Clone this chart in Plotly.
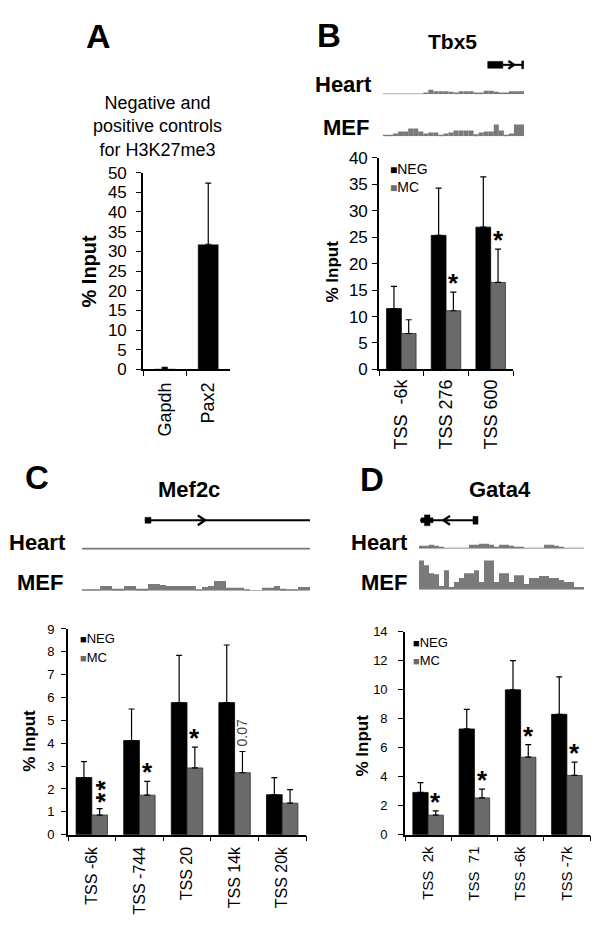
import plotly.graph_objects as go

# ---------------- data ----------------
a_cats = ["Gapdh", "Pax2"]
a_vals = [0.2, 31.8]
a_err = [0.3, 15.5]

b_cats = ["TSS\u00a0\u00a0-6k", "TSS 276", "TSS 600"]
b_neg = [11.5, 25.35, 26.9]
b_neg_err = [4.2, 8.95, 9.5]
b_mc = [6.8, 11.1, 16.45]
b_mc_err = [2.6, 3.5, 6.3]
b_sig = ["", "*", "*"]

c_cats = ["TSS -6k", "TSS -744", "TSS 20", "TSS 14k", "TSS 20k"]
c_neg = [2.5, 4.12, 5.78, 5.78, 1.75]
c_neg_err = [0.7, 1.38, 2.07, 2.52, 0.75]
c_mc = [0.86, 1.73, 2.92, 2.71, 1.38]
c_mc_err = [0.28, 0.6, 0.91, 0.93, 0.59]
c_sig = ["**", "*", "*", "0.07", ""]

d_cats = ["TSS\u00a0\u00a02k", "TSS\u00a0\u00a071", "TSS -6k", "TSS -7k"]
d_neg = [2.92, 7.3, 10.0, 8.31]
d_neg_err = [0.68, 1.35, 2.02, 2.59]
d_mc = [1.35, 2.54, 5.35, 4.09]
d_mc_err = [0.29, 0.61, 0.87, 0.92]
d_sig = ["*", "*", "*", "*"]

# genome browser coverage tracks (binned signal)
b_heart = [0.6, 0.6, 0.6, 0.6, 0.6, 0.6, 0.6, 0.6, 1.5, 4.5, 3, 3, 3, 2.5, 1.5, 3, 3, 3,
           1, 1.5, 3.5, 3.5, 2.5, 1, 1, 3, 3, 3]
b_mef = [1.5, 1.5, 3, 5, 5, 8, 8, 5, 3, 4, 4, 1, 3, 4, 6, 6, 6, 6, 2, 4, 5, 5, 12, 6, 1, 3,
         12, 12]
c_heart = [1.0] * 38
c_mef = [0.7, 0.7, 0.7, 5, 5, 2, 2, 5, 5, 2, 2, 7, 7, 6, 5, 5, 5, 5, 5, 0.7, 4, 5, 10, 10,
         3, 3, 3, 1.5, 0.6, 0.6, 3, 3, 5, 2, 0.7, 0.7, 4, 4]
d_heart = [3, 3, 4, 3, 2, 0.7, 0.7, 0.7, 0.7, 0.7, 4, 4, 5, 5, 4, 1.5, 4, 4, 3, 2, 1.5,
           0.7, 0.7, 0.7, 0.7, 4, 4, 3, 2, 0.7, 0.7, 0.7, 0.7]
d_mef = [30, 25, 17, 16, 4, 20, 3, 8, 12, 17, 17, 20, 8, 30, 30, 8, 17, 17, 8, 15, 15, 6,
         12, 12, 14, 14, 12, 12, 10, 8, 8, 3, 3]

# gene models (in track bin units)
b_gene_span = [20.8, 27.8]
b_gene_block = [20.8, 23.8]
b_gene_arrow = 26.0
c_gene_span = [11.0, 38.0]
c_gene_block = [10.5, 11.5]
c_gene_arrow = 20.5
d_gene_span = [0.2, 11.6]
d_gene_block = [10.8, 11.8]
d_gene_arrow = 4.9

# ---------------- layout helpers ----------------
W, H = 601, 925
FONT = "Arial, Liberation Sans, sans-serif"
BLACK = "#000000"
GRAY = "#6a6a6a"
TRACK = "#7a7a7a"


def fx(p):
    return p / W


def fy(p):
    return 1 - p / H


fig = go.Figure()

err_style = dict(type="data", symmetric=False, color=BLACK, thickness=1.2, width=3)


def add_bars(xa, ya, cats, neg, negerr, mc, mcerr):
    fig.add_trace(go.Bar(x=cats, y=neg, name="NEG", marker=dict(color=BLACK, line=dict(color=BLACK, width=0.8)),
                         error_y=dict(array=negerr, arrayminus=[0] * len(neg), **err_style),
                         xaxis=xa, yaxis=ya, showlegend=False))
    fig.add_trace(go.Bar(x=cats, y=mc, name="MC", marker=dict(color=GRAY, line=dict(color="#303030", width=0.8)),
                         error_y=dict(array=mcerr, arrayminus=[0] * len(mc), **err_style),
                         xaxis=xa, yaxis=ya, showlegend=False))


# panel A
fig.add_trace(go.Bar(x=a_cats, y=a_vals, width=0.48, marker=dict(color=BLACK),
                     error_y=dict(array=a_err, arrayminus=[0, 0], **err_style),
                     xaxis="x", yaxis="y", showlegend=False))
add_bars("x2", "y2", b_cats, b_neg, b_neg_err, b_mc, b_mc_err)
add_bars("x3", "y3", c_cats, c_neg, c_neg_err, c_mc, c_mc_err)
add_bars("x4", "y4", d_cats, d_neg, d_neg_err, d_mc, d_mc_err)

tracks = [("x5", "y5", b_heart), ("x6", "y6", b_mef), ("x7", "y7", c_heart),
          ("x8", "y8", c_mef), ("x9", "y9", d_heart), ("x10", "y10", d_mef)]
for xa, ya, vals in tracks:
    fig.add_trace(go.Bar(x=[i + 0.5 for i in range(len(vals))], y=vals, width=1.0,
                         marker=dict(color=TRACK, line=dict(width=0)),
                         xaxis=xa, yaxis=ya, showlegend=False, hoverinfo="skip"))

layout = dict(width=W, height=H, margin=dict(l=0, r=0, t=0, b=0),
              paper_bgcolor="white", plot_bgcolor="white",
              barmode="group", bargap=0.34, bargroupgap=0,
              font=dict(family=FONT, color=BLACK))


def bar_axes(n, x0, x1, y0, y1, ncat, ymax, dtick, yfs, xfs, ystand, xstand):
    sfx = "" if n == 1 else str(n)
    layout["xaxis" + sfx] = dict(domain=[fx(x0), fx(x1)], anchor="y" + sfx, type="category",
                                 range=[-0.5, ncat - 0.5], showline=True, linecolor=BLACK,
                                 linewidth=1.6, ticks="outside", tickson="boundaries",
                                 ticklen=5, tickwidth=1.4, tickcolor=BLACK, tickangle=-90,
                                 tickfont=dict(size=xfs, family=FONT, color=BLACK),
                                 ticklabelstandoff=xstand,
                                 showgrid=False, zeroline=False, fixedrange=True)
    layout["yaxis" + sfx] = dict(domain=[fy(y0), fy(y1)], anchor="x" + sfx, range=[0, ymax],
                                 dtick=dtick, tick0=0, showline=True, linecolor=BLACK,
                                 linewidth=1.6, ticks="outside", ticklen=5, tickwidth=1.4,
                                 tickcolor=BLACK, tickfont=dict(size=yfs, family=FONT, color=BLACK),
                                 ticklabelstandoff=ystand,
                                 showgrid=False, zeroline=False, fixedrange=True)


bar_axes(1, 143, 230, 368, 167, 2, 50, 5, 17, 18, 6, 4)
bar_axes(2, 379, 513, 368, 152, 3, 40, 5, 17, 18, 1, 1)
bar_axes(3, 68, 306, 843, 633, 5, 9, 1, 13, 16, 4, 4)
bar_axes(4, 405, 590, 843, 636, 4, 14, 2, 13, 15, 8, 4)


def track_axes(n, x0, x1, base, hpx, nbins):
    layout["xaxis%d" % n] = dict(domain=[fx(x0), fx(x1)], anchor="y%d" % n, range=[0, nbins],
                                 visible=False, fixedrange=True)
    layout["yaxis%d" % n] = dict(domain=[fy(base), fy(base - hpx)], anchor="x%d" % n,
                                 range=[0, hpx], visible=False, fixedrange=True)


track_axes(5, 383, 524, 87, 8, len(b_heart))
track_axes(6, 383, 524, 130, 16, len(b_mef))
track_axes(7, 82, 310, 552, 6, len(c_heart))
track_axes(8, 82, 310, 594, 16, len(c_mef))
track_axes(9, 419, 584, 551, 8, len(d_heart))
track_axes(10, 419, 584, 593, 32, len(d_mef))

fig.update_layout(**layout)

# ---------------- gene models ----------------
shapes = []


def gline(xref, xa, xb, ypx, w=2.0):
    shapes.append(dict(type="line", xref=xref, yref="paper", x0=xa, x1=xb, y0=fy(ypx), y1=fy(ypx),
                       line=dict(color=BLACK, width=w)))


def grect(xref, xa, xb, ypx, hpx):
    shapes.append(dict(type="rect", xref=xref, yref="paper", x0=xa, x1=xb,
                       y0=fy(ypx + hpx / 2), y1=fy(ypx - hpx / 2),
                       fillcolor=BLACK, line=dict(color=BLACK, width=0.5)))


def gchev(xref, tip, back, ypx, hh, w=2.4):
    shapes.append(dict(type="path", xref=xref, yref="paper",
                       path="M %f,%f L %f,%f L %f,%f" % (back, fy(ypx - hh), tip, fy(ypx), back, fy(ypx + hh)),
                       line=dict(color=BLACK, width=w)))


# Tbx5
gline("x6", b_gene_block[1], b_gene_span[1], 57)
grect("x6", b_gene_block[0], b_gene_block[1], 57, 7)
gchev("x6", b_gene_arrow, b_gene_arrow - 1.1, 57, 4)
grect("x6", b_gene_span[1] - 0.25, b_gene_span[1] + 0.15, 57, 8)
# Mef2c
gline("x8", c_gene_span[0], c_gene_span[1], 522)
grect("x8", c_gene_block[0], c_gene_block[1], 522, 6)
gchev("x8", c_gene_arrow, c_gene_arrow - 1.2, 522, 5)
# Gata4
gline("x10", d_gene_span[0], d_gene_span[1], 522)
grect("x10", d_gene_span[0] + 0.2, d_gene_span[0] + 2.6, 522, 5)
grect("x10", d_gene_span[0] + 0.9, d_gene_span[0] + 2.0, 522, 11)
gchev("x10", d_gene_arrow, d_gene_arrow + 1.3, 522, 4.5)
grect("x10", d_gene_block[0], d_gene_block[1], 522, 8)

fig.update_layout(shapes=shapes)

# ---------------- annotations ----------------
ann = []


def text(x, y, s, size, bold=False, angle=0, color=BLACK, xanchor="center", yanchor="middle"):
    ann.append(dict(x=fx(x), y=fy(y), xref="paper", yref="paper", text=("<b>%s</b>" % s) if bold else s,
                    showarrow=False, textangle=angle, xanchor=xanchor, yanchor=yanchor,
                    font=dict(family=FONT, size=size, color=color)))


# panel letters
text(98, 28, "A", 34, True)
text(329, 27, "B", 33, True)
text(37, 478, "C", 33, True)
text(372, 480, "D", 33, True)
# titles
text(157, 120, "Negative and<br>positive controls<br>for H3K27me3", 18)
text(452, 33, "Tbx5", 21, True)
text(189, 491, "Mef2c", 22, True)
text(500, 491, "Gata4", 22, True)
# track labels
text(343, 77, "Heart", 22, True)
text(346, 121, "MEF", 22, True)
text(37, 545, "Heart", 22, True)
text(40, 586, "MEF", 22, True)
text(379, 545, "Heart", 22, True)
text(384, 586, "MEF", 22, True)
# y titles
text(89, 268, "% Input", 20, True, -90)
text(332, 268, "% Input", 17, True, -90)
text(30, 747, "% Input", 17, True, -90)
text(363, 752, "% Input", 17, True, -90)


# legends
def legend(x, y1, y2, size):
    for yy, col, lab in [(y1, BLACK, "NEG"), (y2, GRAY, "MC")]:
        ann.append(dict(x=fx(x), y=fy(yy), xref="paper", yref="paper", showarrow=False,
                        xanchor="left", yanchor="middle",
                        text="<span style='color:%s;font-size:%dpx'>■</span>%s" % (col, size - 2, lab),
                        font=dict(family=FONT, size=size, color=BLACK)))


legend(388, 163, 182, 14)
legend(78, 643, 662, 13)
legend(411, 647, 665, 13)


# significance marks
def sig(xa, ya, marks, mc, mcerr, off):
    for i, m in enumerate(marks):
        if not m:
            continue
        top = mc[i] + mcerr[i]
        if m == "*":
            ann.append(dict(x=i + off, y=top, xref=xa, yref=ya, text="<b>*</b>", showarrow=False,
                            xanchor="center", yanchor="bottom", yshift=-8,
                            font=dict(family=FONT, size=26, color=BLACK)))
        elif m.startswith("*"):
            # stacked asterisks drawn as one vertical run of text
            ann.append(dict(x=i + off, y=top, xref=xa, yref=ya,
                            text="<b>%s</b>" % "\u200a".join(m), showarrow=False,
                            xanchor="center", yanchor="bottom", textangle=-90, yshift=4, xshift=5,
                            font=dict(family=FONT, size=26, color=BLACK)))
        else:
            ann.append(dict(x=i + off, y=top, xref=xa, yref=ya, text=m, showarrow=False,
                            xanchor="center", yanchor="bottom", textangle=-90, yshift=3,
                            font=dict(family=FONT, size=14, color="#444444")))


sig("x2", "y2", b_sig, b_mc, b_mc_err, 0.165)
sig("x3", "y3", c_sig, c_mc, c_mc_err, 0.165)
sig("x4", "y4", d_sig, d_mc, d_mc_err, 0.165)

fig.update_layout(annotations=ann)

fig.write_html("out.html", config={"displayModeBar": False},
               post_script="document.body.style.margin='0px';document.body.style.overflow='hidden';")
